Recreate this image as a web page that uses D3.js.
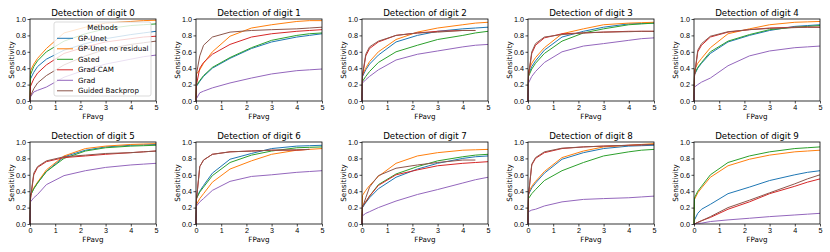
<!DOCTYPE html>
<html>
<head>
<meta charset="utf-8">
<script src="https://cdn.jsdelivr.net/npm/d3@7"></script>
<style>
  body { margin: 0; background: #fff; }
  svg { font-family: "DejaVu Sans", sans-serif; }
  .tick text { font-size: 7.2px; fill: #000; }
  .tick line { stroke: #000; stroke-width: 0.7; }
</style>
</head>
<body>
<div id="chart"></div>
<script>
// FPavg grid shared by all curves
var fpGrid = [0, 0.02, 0.15, 0.3, 0.65, 1.35, 2.2, 3, 4, 4.5, 5];

var methods = ["GP-Unet", "GP-Unet no residual", "Gated", "Grad-CAM", "Grad", "Guided Backprop"];
var colors = ["#1f77b4", "#ff7f0e", "#2ca02c", "#d62728", "#9467bd", "#8c564b"];
var digits = [0, 1, 2, 3, 4, 5, 6, 7, 8, 9];
var xTicks = [0, 1, 2, 3, 4, 5];
var yTicks = [0, 0.2, 0.4, 0.6, 0.8, 1.0];

// sensitivity per method (order as in methods), one array per digit
var sensDigit0 = [
  [0, 0.27, 0.35, 0.42, 0.51, 0.62, 0.70, 0.76, 0.81, 0.83, 0.85],
  [0, 0.37, 0.45, 0.52, 0.64, 0.83, 0.90, 0.95, 0.97, 0.98, 0.985],
  [0, 0.32, 0.42, 0.49, 0.60, 0.73, 0.82, 0.88, 0.92, 0.93, 0.94],
  [0, 0.18, 0.27, 0.34, 0.44, 0.58, 0.66, 0.72, 0.76, 0.78, 0.79],
  [0, 0.05, 0.11, 0.13, 0.17, 0.29, 0.38, 0.45, 0.51, 0.54, 0.56],
  [0, 0.06, 0.15, 0.22, 0.31, 0.44, 0.55, 0.63, 0.69, 0.71, 0.73]
];
var sensDigit1 = [
  [0, 0.18, 0.24, 0.30, 0.40, 0.52, 0.64, 0.72, 0.78, 0.80, 0.82],
  [0, 0.33, 0.38, 0.46, 0.60, 0.79, 0.89, 0.93, 0.97, 0.98, 0.98],
  [0, 0.19, 0.25, 0.31, 0.41, 0.53, 0.65, 0.74, 0.80, 0.82, 0.83],
  [0, 0.20, 0.40, 0.47, 0.57, 0.69, 0.78, 0.82, 0.85, 0.86, 0.87],
  [0, 0.03, 0.10, 0.12, 0.16, 0.22, 0.28, 0.33, 0.37, 0.38, 0.39],
  [0, 0.33, 0.55, 0.68, 0.78, 0.84, 0.86, 0.87, 0.88, 0.89, 0.90]
];
var sensDigit2 = [
  [0, 0.30, 0.38, 0.45, 0.56, 0.72, 0.80, 0.85, 0.88, 0.89, 0.90],
  [0, 0.32, 0.40, 0.48, 0.60, 0.75, 0.84, 0.89, 0.93, 0.95, 0.96],
  [0, 0.24, 0.30, 0.36, 0.47, 0.60, 0.68, 0.75, 0.80, 0.83, 0.85],
  [0, 0.30, 0.55, 0.64, 0.72, 0.80, 0.83, 0.85, 0.86, 0.86, null],
  [0, 0.22, 0.26, 0.30, 0.38, 0.50, 0.57, 0.61, 0.66, 0.68, 0.69],
  [0, 0.32, 0.57, 0.66, 0.73, 0.80, 0.83, 0.84, 0.86, 0.86, null]
];
var sensDigit3 = [
  [0, 0.32, 0.42, 0.49, 0.62, 0.78, 0.85, 0.90, 0.94, 0.945, 0.95],
  [0, 0.37, 0.46, 0.53, 0.65, 0.82, 0.88, 0.93, 0.95, 0.955, 0.96],
  [0, 0.30, 0.39, 0.46, 0.58, 0.73, 0.83, 0.88, 0.93, 0.94, 0.95],
  [0, 0.30, 0.58, 0.68, 0.77, 0.82, 0.83, 0.84, 0.85, 0.85, 0.85],
  [0, 0.22, 0.30, 0.36, 0.47, 0.60, 0.67, 0.70, 0.74, 0.76, 0.77],
  [0, 0.32, 0.60, 0.70, 0.78, 0.81, 0.83, 0.84, 0.845, 0.85, 0.85]
];
var sensDigit4 = [
  [0, 0.32, 0.40, 0.46, 0.58, 0.72, 0.80, 0.86, 0.91, 0.92, 0.93],
  [0, 0.38, 0.46, 0.52, 0.65, 0.82, 0.88, 0.93, 0.96, 0.965, 0.97],
  [0, 0.33, 0.41, 0.47, 0.60, 0.73, 0.81, 0.87, 0.90, 0.91, 0.92],
  [0, 0.30, 0.60, 0.68, 0.78, 0.84, 0.87, 0.89, 0.90, 0.90, 0.90],
  [0, 0.17, 0.20, 0.23, 0.28, 0.43, 0.55, 0.61, 0.65, 0.66, 0.67],
  [0, 0.32, 0.62, 0.70, 0.79, 0.845, 0.87, 0.885, 0.895, 0.90, 0.90]
];
var sensDigit5 = [
  [0, 0.35, 0.43, 0.50, 0.64, 0.82, 0.90, 0.94, 0.96, 0.965, 0.97],
  [0, 0.36, 0.44, 0.51, 0.66, 0.83, 0.92, 0.95, 0.97, 0.975, 0.98],
  [0, 0.35, 0.43, 0.50, 0.64, 0.80, 0.89, 0.93, 0.95, 0.955, 0.96],
  [0, 0.30, 0.60, 0.69, 0.76, 0.81, 0.83, 0.85, 0.87, 0.88, 0.89],
  [0, 0.27, 0.32, 0.36, 0.48, 0.59, 0.65, 0.69, 0.72, 0.73, 0.74],
  [0, 0.32, 0.62, 0.70, 0.77, 0.82, 0.84, 0.86, 0.87, 0.88, 0.89]
];
var sensDigit6 = [
  [0, 0.32, 0.40, 0.47, 0.62, 0.79, 0.86, 0.92, 0.95, 0.955, 0.96],
  [0, 0.24, 0.31, 0.37, 0.51, 0.67, 0.77, 0.85, 0.90, 0.91, 0.92],
  [0, 0.31, 0.39, 0.45, 0.59, 0.75, 0.84, 0.89, 0.93, 0.935, 0.94],
  [0, 0.30, 0.70, 0.78, 0.85, 0.88, 0.89, 0.90, 0.90, 0.91, null],
  [0, 0.22, 0.27, 0.31, 0.41, 0.52, 0.58, 0.60, 0.63, 0.64, 0.65],
  [0, 0.30, 0.70, 0.78, 0.85, 0.88, 0.89, 0.90, 0.905, 0.91, null]
];
var sensDigit7 = [
  [0, 0.20, 0.26, 0.32, 0.43, 0.57, 0.67, 0.74, 0.80, 0.82, 0.83],
  [0, 0.35, 0.41, 0.47, 0.58, 0.74, 0.83, 0.87, 0.90, 0.905, 0.91],
  [0, 0.22, 0.27, 0.34, 0.48, 0.61, 0.70, 0.77, 0.82, 0.84, 0.85],
  [0, 0.22, 0.27, 0.34, 0.47, 0.60, 0.66, 0.71, 0.74, 0.75, 0.76],
  [0, 0.10, 0.13, 0.15, 0.20, 0.28, 0.36, 0.42, 0.50, 0.54, 0.57],
  [0, 0.20, 0.32, 0.45, 0.59, 0.68, 0.72, 0.75, 0.78, 0.78, null]
];
var sensDigit8 = [
  [0, 0.36, 0.44, 0.50, 0.62, 0.79, 0.87, 0.92, 0.95, 0.955, 0.96],
  [0, 0.38, 0.46, 0.52, 0.64, 0.81, 0.89, 0.94, 0.96, 0.97, 0.98],
  [0, 0.31, 0.37, 0.42, 0.53, 0.65, 0.75, 0.83, 0.88, 0.90, 0.91],
  [0, 0.35, 0.72, 0.80, 0.87, 0.92, 0.94, 0.95, 0.96, 0.965, 0.97],
  [0, 0.15, 0.17, 0.18, 0.22, 0.27, 0.30, 0.31, 0.32, 0.33, 0.34],
  [0, 0.35, 0.73, 0.81, 0.88, 0.925, 0.94, 0.95, 0.96, 0.965, 0.97]
];
var sensDigit9 = [
  [0, 0.05, 0.13, 0.18, 0.24, 0.37, 0.45, 0.53, 0.60, 0.63, 0.65],
  [0, 0.30, 0.38, 0.44, 0.57, 0.71, 0.79, 0.84, 0.88, 0.89, 0.90],
  [0, 0.32, 0.40, 0.46, 0.60, 0.75, 0.83, 0.88, 0.92, 0.93, 0.94],
  [0, 0.00, 0.02, 0.04, 0.08, 0.18, 0.27, 0.37, 0.46, 0.51, 0.55],
  [0, 0.00, 0.01, 0.01, 0.03, 0.05, 0.07, 0.09, 0.11, 0.12, 0.13],
  [0, 0.00, 0.02, 0.04, 0.09, 0.20, 0.29, 0.38, 0.49, 0.55, 0.60]
];
var sensAll = [sensDigit0, sensDigit1, sensDigit2, sensDigit3, sensDigit4,
               sensDigit5, sensDigit6, sensDigit7, sensDigit8, sensDigit9];

var width = 830, height = 252;
var panelW = 126, colStep = 166, left0 = 30;
var rowTops = [19, 142], panelH = 82;

var svg = d3.select("#chart").append("svg")
    .attr("width", width)
    .attr("height", height);

var x = d3.scaleLinear().domain([0, 5]).range([0, panelW]);
var y = d3.scaleLinear().domain([0, 1]).range([panelH, 0]);

var line = d3.line()
    .defined(function (d) { return d[1] != null; })
    .x(function (d) { return x(d[0]); })
    .y(function (d) { return y(d[1]); });

digits.forEach(function (digit, i) {
    var col = i % 5, row = Math.floor(i / 5);
    var g = svg.append("g")
        .attr("transform", "translate(" + (left0 + col * colStep) + "," + rowTops[row] + ")");

    // curves
    sensAll[i].forEach(function (vals, m) {
        g.append("path")
            .datum(fpGrid.map(function (fp, k) { return [fp, vals[k]]; }))
            .attr("d", line)
            .attr("fill", "none")
            .attr("stroke", colors[m])
            .attr("stroke-width", 1)
            .attr("stroke-linejoin", "round");
    });

    // axes
    g.append("g")
        .attr("transform", "translate(0," + panelH + ")")
        .call(d3.axisBottom(x).tickValues(xTicks).tickFormat(d3.format("d"))
            .tickSize(2.5).tickPadding(1.5).tickSizeOuter(0))
        .call(function (a) { a.select(".domain").remove(); });
    g.append("g")
        .call(d3.axisLeft(y).tickValues(yTicks).tickFormat(d3.format(".1f"))
            .tickSize(2.5).tickPadding(1.5).tickSizeOuter(0))
        .call(function (a) { a.select(".domain").remove(); });

    g.append("rect")
        .attr("width", panelW)
        .attr("height", panelH)
        .attr("fill", "none")
        .attr("stroke", "#000")
        .attr("stroke-width", 0.8);

    g.append("text")
        .attr("x", panelW / 2)
        .attr("y", -3)
        .attr("text-anchor", "middle")
        .style("font-size", "8.7px")
        .text("Detection of digit " + digit);

    g.append("text")
        .attr("x", panelW / 2)
        .attr("y", panelH + 17.5)
        .attr("text-anchor", "middle")
        .style("font-size", "7.2px")
        .text("FPavg");

    g.append("text")
        .attr("transform", "translate(-16," + (panelH / 2) + ") rotate(-90)")
        .attr("text-anchor", "middle")
        .style("font-size", "7.2px")
        .text("Sensitivity");

    // legend only on first panel
    if (i === 0) {
        var lg = g.append("g").attr("transform", "translate(24,3)");
        lg.append("rect")
            .attr("width", 97)
            .attr("height", 74)
            .attr("rx", 2)
            .attr("fill", "#fff")
            .attr("fill-opacity", 0.8)
            .attr("stroke", "#ccc")
            .attr("stroke-width", 0.7);
        lg.append("text")
            .attr("x", 48.5)
            .attr("y", 7.5)
            .attr("text-anchor", "middle")
            .style("font-size", "7.1px")
            .text("Methods");
        var item = lg.selectAll(".item")
            .data(methods)
            .enter().append("g")
            .attr("class", "item")
            .attr("transform", function (d, k) { return "translate(0," + (16.3 + k * 10.5) + ")"; });
        item.append("line")
            .attr("x1", 3).attr("x2", 19)
            .attr("stroke", function (d, k) { return colors[k]; })
            .attr("stroke-width", 1);
        item.append("text")
            .attr("x", 24)
            .attr("y", 2.5)
            .style("font-size", "7.1px")
            .text(function (d) { return d; });
    }
});
</script>
</body>
</html>
